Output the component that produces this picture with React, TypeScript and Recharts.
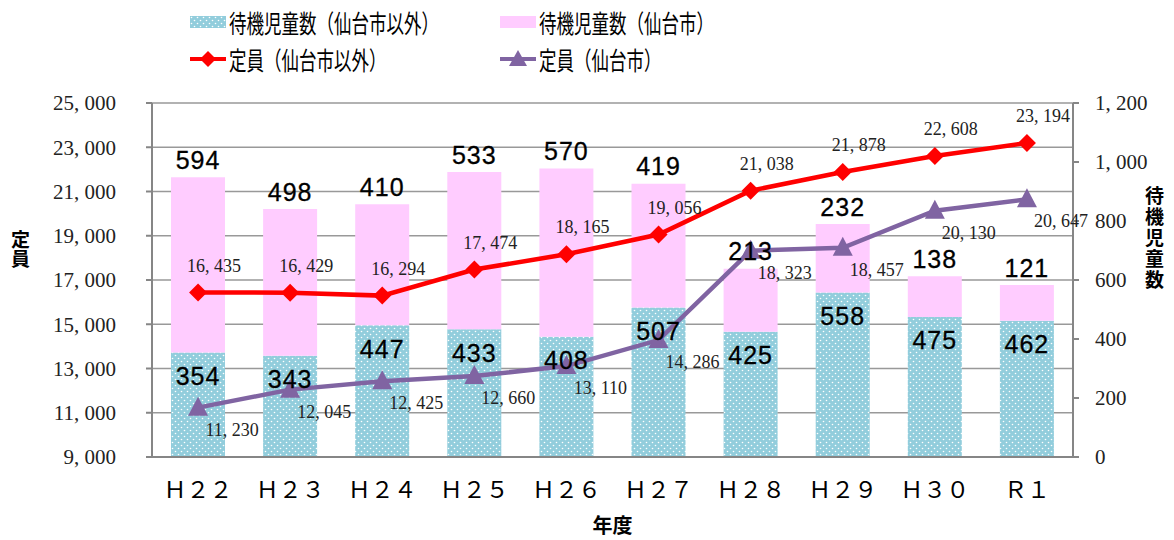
import { Bar, CartesianGrid, ComposedChart, LabelList, Line, XAxis, YAxis } from "recharts"

// 年度
const years = ["Ｈ２２", "Ｈ２３", "Ｈ２４", "Ｈ２５", "Ｈ２６", "Ｈ２７", "Ｈ２８", "Ｈ２９", "Ｈ３０", "Ｒ１"]
// 待機児童数
const waitOther = [354, 343, 447, 433, 408, 507, 425, 558, 475, 462]
const waitSendai = [594, 498, 410, 533, 570, 419, 213, 232, 138, 121]
// 定員
const capOther = [16435, 16429, 16294, 17474, 18165, 19056, 21038, 21878, 22608, 23194]
const capSendai = [11230, 12045, 12425, 12660, 13110, 14286, 18323, 18457, 20130, 20647]

const leftTicks = [9000, 11000, 13000, 15000, 17000, 19000, 21000, 23000, 25000]
const rightTicks = [0, 200, 400, 600, 800, 1000, 1200]

const data = years.map((year, i) => ({
  year,
  waitOther: waitOther[i],
  waitSendai: waitSendai[i],
  capOther: capOther[i],
  capSendai: capSendai[i],
}))

const BLUE = "#92CDDC"
const PINK = "#FFCCFF"
const RED = "#FF0000"
const PURPLE = "#8064A2"
const AXIS = "#868686"

const fmt = (v: number) => v.toLocaleString("en-US").replace(",", ", ")

const serif = "'Liberation Serif', serif"
const sans = "'Liberation Sans', Arial, sans-serif"
const jp = "'Noto Sans CJK JP', sans-serif"

function Diamond(props: any) {
  const { cx, cy } = props
  if (cx == null || cy == null) return null
  const r = 9
  return <polygon points={`${cx},${cy - r} ${cx + r},${cy} ${cx},${cy + r} ${cx - r},${cy}`} fill={RED} />
}

function Triangle(props: any) {
  const { cx, cy } = props
  if (cx == null || cy == null) return null
  return <polygon points={`${cx},${cy - 11} ${cx + 10},${cy + 8} ${cx - 10},${cy + 8}`} fill={PURPLE} />
}

function XTick(props: any) {
  const { x, y, payload } = props
  return (
    <text x={x} y={y + 27} textAnchor="middle" dominantBaseline="middle" fontFamily={jp} fontSize={23} fill="#000">
      {payload.value}
    </text>
  )
}

function BlueLabel(props: any) {
  const { x, y, width, value } = props
  return (
    <text x={x + width / 2} y={y + 26} textAnchor="middle" dominantBaseline="middle" fontFamily={sans} fontSize={25} fill="#000" stroke="#000" strokeWidth={0.3} letterSpacing={1}>
      {value}
    </text>
  )
}

function PinkLabel(props: any) {
  const { x, y, width, value } = props
  return (
    <text x={x + width / 2} y={y - 15} textAnchor="middle" dominantBaseline="middle" fontFamily={sans} fontSize={25} fill="#000" stroke="#000" strokeWidth={0.3} letterSpacing={1}>
      {value}
    </text>
  )
}

function RedLabel(props: any) {
  const { x, y, value } = props
  return (
    <text x={x + 16} y={y - 25} textAnchor="middle" dominantBaseline="middle" fontFamily={serif} fontSize={18} fill="#222">
      {fmt(value)}
    </text>
  )
}

function PurpleLabel(props: any) {
  const { x, y, value } = props
  return (
    <text x={x + 34} y={y + 24} textAnchor="middle" dominantBaseline="middle" fontFamily={serif} fontSize={18} fill="#222">
      {fmt(value)}
    </text>
  )
}

const legendText = {
  fontFamily: jp,
  fontSize: 25,
  color: "#000",
  lineHeight: "28px",
  display: "inline-block",
  whiteSpace: "nowrap" as const,
  transform: "scaleX(0.7)",
  transformOrigin: "left center",
}

function LegendOverlay() {
  const item = (left: number, top: number, icon: any, label: string) => (
    <div style={{ position: "absolute", left, top, display: "flex", alignItems: "center" }}>
      {icon}
      <span style={{ ...legendText, marginLeft: 3 }}>{label}</span>
    </div>
  )
  const barIcon = (fill: string) => (
    <svg width={36} height={24}>
      <rect x={0} y={6} width={36} height={12} fill={fill} />
    </svg>
  )
  const lineIcon = (color: string, marker: any) => (
    <svg width={36} height={24}>
      <line x1={0} y1={12} x2={36} y2={12} stroke={color} strokeWidth={4} />
      {marker}
    </svg>
  )
  return (
    <>
      {item(190, 8, barIcon("url(#dots)"), "待機児童数（仙台市以外）")}
      {item(500, 8, barIcon(PINK), "待機児童数（仙台市）")}
      {item(190, 45, lineIcon(RED, <polygon points="18,4 26,12 18,20 10,12" fill={RED} />), "定員（仙台市以外）")}
      {item(500, 45, lineIcon(PURPLE, <polygon points="18,3 27,19 9,19" fill={PURPLE} />), "定員（仙台市）")}
    </>
  )
}

export default function App() {
  return (
    <div style={{ position: "absolute", left: 0, top: 0, width: 1174, height: 540, background: "#fff" }}>
      <svg width={0} height={0} style={{ position: "absolute" }}>
        <defs>
          <pattern id="dots" width={6} height={6} patternUnits="userSpaceOnUse">
            <rect width={6} height={6} fill={BLUE} />
            <circle cx={1.5} cy={1.5} r={0.8} fill="#fff" />
            <circle cx={4.5} cy={4.5} r={0.8} fill="#fff" />
          </pattern>
        </defs>
      </svg>
      <ComposedChart width={1174} height={540} data={data} margin={{ top: 103, right: 0, bottom: 0, left: 0 }}>
        <CartesianGrid yAxisId="left" vertical={false} stroke="#999" strokeWidth={1.5} />
        <XAxis
          dataKey="year"
          height={83}
          tick={<XTick />}
          tickLine={false}
          axisLine={{ stroke: AXIS, strokeWidth: 2 }}
          label={{ value: "年度", position: "insideBottom", offset: 7, fontFamily: jp, fontSize: 20, fontWeight: 700, fill: "#000" }}
        />
        <YAxis
          yAxisId="left"
          width={152}
          domain={[9000, 25000]}
          ticks={leftTicks}
          tickFormatter={fmt}
          tick={{ fontFamily: serif, fontSize: 21, fill: "#222" }}
          tickSize={6}
          tickMargin={30}
          interval={0}
          axisLine={{ stroke: AXIS, strokeWidth: 2 }}
          tickLine={{ stroke: AXIS, strokeWidth: 2 }}
          allowDataOverflow
        />
        <YAxis
          yAxisId="right"
          orientation="right"
          width={101}
          domain={[0, 1200]}
          ticks={rightTicks}
          tickFormatter={fmt}
          tick={{ fontFamily: serif, fontSize: 21, fill: "#222", textAnchor: "start" }}
          tickSize={6}
          tickMargin={16}
          interval={0}
          axisLine={{ stroke: AXIS, strokeWidth: 2 }}
          tickLine={{ stroke: AXIS, strokeWidth: 2 }}
        />
        <Bar yAxisId="right" dataKey="waitOther" stackId="w" fill="url(#dots)" barSize={54} isAnimationActive={false}>
          <LabelList dataKey="waitOther" content={<BlueLabel />} />
        </Bar>
        <Bar yAxisId="right" dataKey="waitSendai" stackId="w" fill={PINK} barSize={54} isAnimationActive={false}>
          <LabelList dataKey="waitSendai" content={<PinkLabel />} />
        </Bar>
        <Line yAxisId="left" dataKey="capOther" stroke={RED} strokeWidth={4.5} dot={<Diamond />} activeDot={false} isAnimationActive={false}>
          <LabelList dataKey="capOther" content={<RedLabel />} />
        </Line>
        <Line yAxisId="left" dataKey="capSendai" stroke={PURPLE} strokeWidth={4.5} dot={<Triangle />} activeDot={false} isAnimationActive={false}>
          <LabelList dataKey="capSendai" content={<PurpleLabel />} />
        </Line>
      </ComposedChart>
      <LegendOverlay />
      <div style={{ position: "absolute", left: 10, top: 230, writingMode: "vertical-rl", fontFamily: jp, fontSize: 19, fontWeight: 700, lineHeight: "20px" }}>
        定員
      </div>
      <div style={{ position: "absolute", left: 1143, top: 186, writingMode: "vertical-rl", fontFamily: jp, fontSize: 19, fontWeight: 700, lineHeight: "22px", letterSpacing: 2 }}>
        待機児童数
      </div>
    </div>
  )
}
